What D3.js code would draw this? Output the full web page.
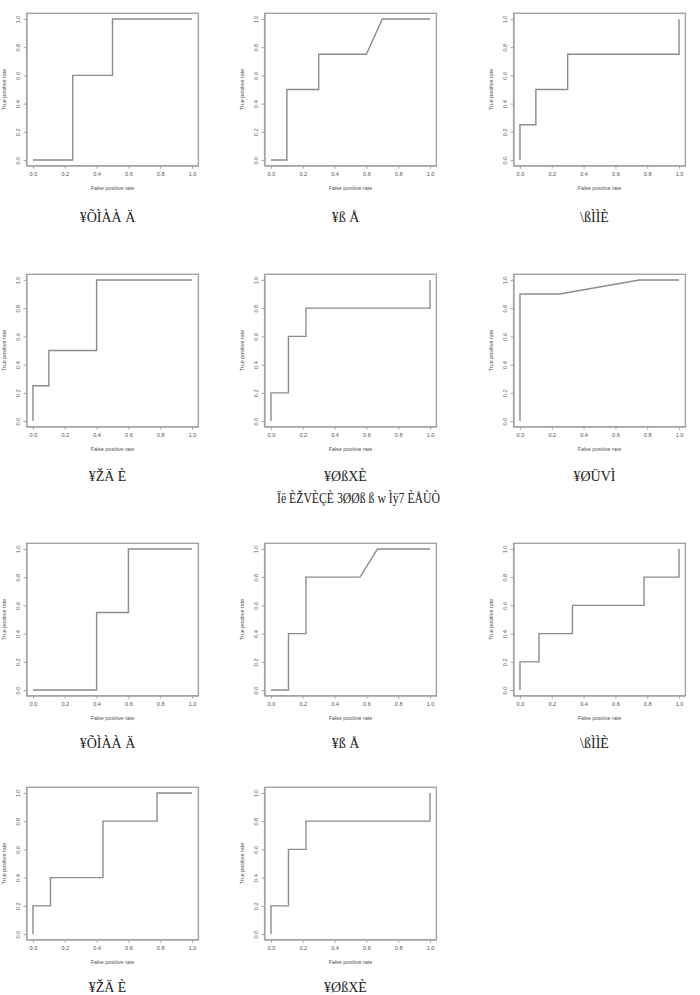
<!DOCTYPE html>
<html>
<head>
<meta charset="utf-8">
<script src="https://cdn.jsdelivr.net/npm/d3@7"></script>
<style>
  body { margin: 0; background: #fff; }
  svg { display: block; }
</style>
</head>
<body>
<div class="figure"></div>
<script>
// ROC curves, one per panel (false positive rate / true positive rate)
var fprSeries = [
  [0, 0.25, 0.25, 0.5, 0.5, 1],
  [0, 0.1, 0.1, 0.3, 0.3, 0.6, 0.7, 1],
  [0, 0, 0.1, 0.1, 0.3, 0.3, 1, 1],
  [0, 0, 0.1, 0.1, 0.4, 0.4, 1],
  [0, 0, 0.11, 0.11, 0.22, 0.22, 1, 1],
  [0, 0, 0.25, 0.75, 1],
  [0, 0.4, 0.4, 0.6, 0.6, 1],
  [0, 0.11, 0.11, 0.22, 0.22, 0.56, 0.67, 1],
  [0, 0, 0.12, 0.12, 0.33, 0.33, 0.78, 0.78, 1, 1],
  [0, 0, 0.11, 0.11, 0.44, 0.44, 0.78, 0.78, 1],
  [0, 0, 0.11, 0.11, 0.22, 0.22, 1, 1]
];
var tprSeries = [
  [0, 0, 0.6, 0.6, 1, 1],
  [0, 0, 0.5, 0.5, 0.75, 0.75, 1, 1],
  [0, 0.25, 0.25, 0.5, 0.5, 0.75, 0.75, 1],
  [0, 0.25, 0.25, 0.5, 0.5, 1, 1],
  [0, 0.2, 0.2, 0.6, 0.6, 0.8, 0.8, 1],
  [0, 0.9, 0.9, 1, 1],
  [0, 0, 0.55, 0.55, 1, 1],
  [0, 0, 0.4, 0.4, 0.8, 0.8, 1, 1],
  [0, 0.2, 0.2, 0.4, 0.4, 0.6, 0.6, 0.8, 0.8, 1],
  [0, 0.2, 0.2, 0.4, 0.4, 0.8, 0.8, 1, 1],
  [0, 0.2, 0.2, 0.6, 0.6, 0.8, 0.8, 1]
];
var captions = [
  "¥ÕÌÀÀ Ä", "¥ß Å", "\\ßÌÌÈ",
  "¥ŽÄ È", "¥ØßXÈ", "¥ØÜVÌ",
  "¥ÕÌÀÀ Ä", "¥ß Å", "\\ßÌÌÈ",
  "¥ŽÄ È", "¥ØßXÈ"
];
var figureCaption = "Ïë  ÈŽVÈÇÈ 3ØØß  ß  w  Ìÿ7 ÈÅÙÒ";
var tickValues = [0, 0.2, 0.4, 0.6, 0.8, 1];

// panel grid
var colLeft = [33, 271, 520];
var rowTop = [19, 280, 549, 793];
var captionY = [217, 476, 743, 987];
var pw = 159, ph = 141, padX = 6.4, padY = 5.7;

var svg = d3.select(".figure").append("svg")
    .attr("width", 700)
    .attr("height", 995);

var boxColor = "#a4a4a4",
    lineColor = "#8c8c8c",
    textColor = "#555";

fprSeries.forEach(function(fpr, i) {
  var tpr = tprSeries[i];
  var col = i % 3, row = Math.floor(i / 3);

  var g = svg.append("g")
      .attr("transform", "translate(" + colLeft[col] + "," + rowTop[row] + ")");

  var x = d3.scaleLinear().domain([-0.04, 1.04]).range([-padX, pw + padX]);
  var y = d3.scaleLinear().domain([-0.04, 1.04]).range([ph + padY, -padY]);

  g.append("rect")
      .attr("x", x(-0.04))
      .attr("y", y(1.04))
      .attr("width", x(1.04) - x(-0.04))
      .attr("height", y(-0.04) - y(1.04))
      .style("fill", "none")
      .style("stroke", boxColor)
      .style("stroke-width", "1.4px");

  var xAxis = g.append("g")
      .attr("transform", "translate(0," + y(-0.04) + ")")
      .call(d3.axisBottom(x).tickValues(tickValues).tickFormat(d3.format(".1f")).tickSize(3).tickSizeOuter(0));

  var yAxis = g.append("g")
      .attr("transform", "translate(" + x(-0.04) + ",0)")
      .call(d3.axisLeft(y).tickValues(tickValues).tickFormat(d3.format(".1f")).tickSize(3).tickSizeOuter(0));

  yAxis.selectAll("text")
      .attr("transform", "rotate(-90)")
      .attr("x", 0)
      .attr("y", -7)
      .attr("dy", 0)
      .style("text-anchor", "middle");

  xAxis.selectAll("text").attr("y", 6).attr("dy", "0.71em");

  g.selectAll(".domain, .tick line")
      .style("stroke", boxColor)
      .style("stroke-width", "1px");

  g.selectAll(".tick text")
      .style("fill", textColor)
      .style("font-family", "Liberation Sans, Arial, sans-serif")
      .style("font-size", "5.6px");

  g.append("text")
      .text("False positive rate")
      .attr("x", pw / 2)
      .attr("y", y(-0.04) + 24)
      .style("text-anchor", "middle");

  g.append("text")
      .text("True positive rate")
      .attr("transform", "translate(" + (x(-0.04) - 21) + "," + (ph / 2) + ") rotate(-90)")
      .style("text-anchor", "middle");

  g.selectAll("text:not(.tick text)")
      .style("fill", textColor)
      .style("font-family", "Liberation Sans, Arial, sans-serif")
      .style("font-size", "5.4px");

  var line = d3.line()
      .x(function(d) { return x(d[0]); })
      .y(function(d) { return y(d[1]); });

  g.append("path")
      .datum(d3.zip(fpr, tpr))
      .attr("d", line)
      .style("fill", "none")
      .style("stroke", lineColor)
      .style("stroke-width", "1.4px");

  svg.append("text")
      .text(captions[i])
      .attr("x", colLeft[col] + pw / 2 - 5)
      .attr("y", captionY[row] + 5)
      .style("text-anchor", "middle")
      .style("font-family", "Liberation Serif, DejaVu Serif, serif")
      .style("font-size", "14px")
      .style("fill", "#222");
});

// figure caption between row 2 and row 3, squeezed to its printed width
svg.append("text")
    .text(figureCaption)
    .attr("x", 277)
    .attr("y", 503)
    .attr("textLength", 163)
    .attr("lengthAdjust", "spacingAndGlyphs")
    .style("font-family", "Liberation Serif, DejaVu Serif, serif")
    .style("font-size", "14px")
    .style("fill", "#222");
</script>
</body>
</html>
